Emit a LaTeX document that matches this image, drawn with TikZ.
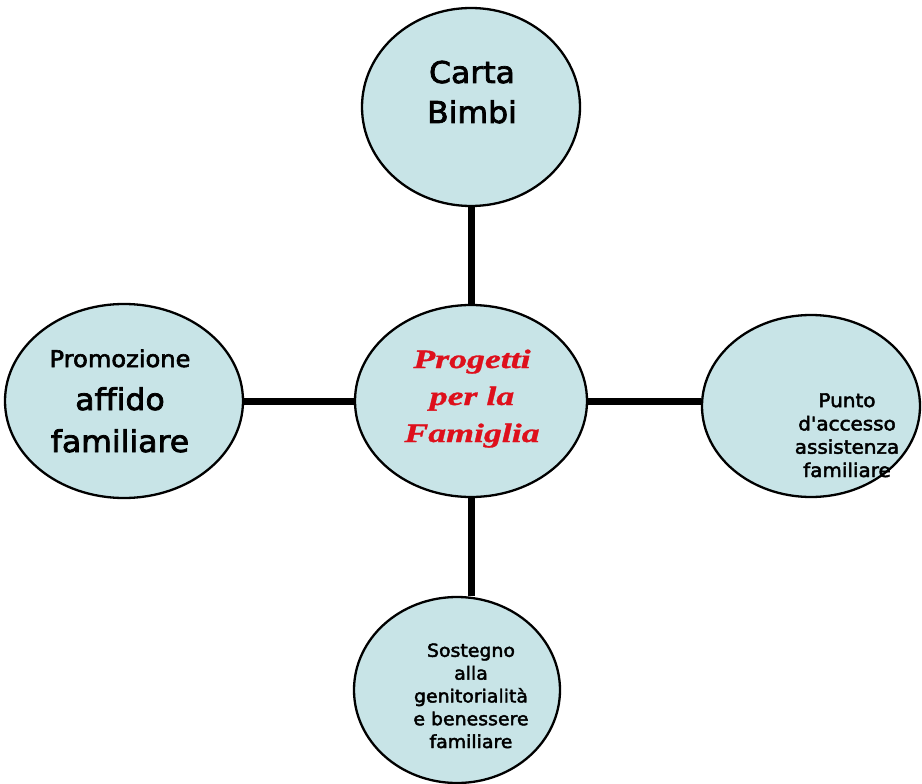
\documentclass[tikz,border=0pt]{standalone}
\usepackage{fontspec}
\setmainfont{Liberation Serif}
\newfontfamily\comicfont[FakeStretch=1.05,FakeBold=2.5,Ligatures=NoCommon]{DejaVu Sans}
\newfontfamily\titlefont[FakeStretch=1.35,FakeBold=1.2]{Liberation Serif}
\usetikzlibrary{shapes.geometric}
\definecolor{bubble}{RGB}{200,228,231}
\definecolor{titlered}{RGB}{222,16,28}
\tikzset{
  bubble/.style={ellipse, draw=black, line width=2.3pt, fill=bubble, inner sep=0pt},
  link/.style={line width=7pt, draw=black},
  txt/.style={anchor=base, align=center, inner sep=0pt, text=black},
}
\begin{document}
\begin{tikzpicture}[x=1pt,y=-1pt]
\useasboundingbox (0,0) rectangle (922,784);
% ellipses
\node[bubble, minimum width=218pt, minimum height=198pt] (top) at (471,107) {};
\node[bubble, minimum width=232pt, minimum height=192pt] (ctr) at (471,401) {};
\node[bubble, minimum width=238pt, minimum height=194pt] (lft) at (124,401) {};
\node[bubble, minimum width=218pt, minimum height=182pt] (rgt) at (811,406) {};
\node[bubble, minimum width=206pt, minimum height=186pt] (bot) at (457,690) {};
% connectors
\draw[link] (top.south) -- (ctr.north);
\draw[link] (lft.east) -- (ctr.west);
\draw[link] (ctr.east) -- (ctr.east -| rgt.west);
\draw[link] (ctr.south) -- (ctr.south |- bot.north);
% texts (anchor base = baseline of the last line)
\node[txt, font={\comicfont\fontsize{30}{40}\selectfont}] (ttop) at (472,123) {Carta\\Bimbi};
\node[txt, font={\comicfont\fontsize{23}{23}\selectfont}] (tlft1) at (120,367) {Promozione};
\node[txt, font={\comicfont\fontsize{30}{42}\selectfont}] (tlft2) at (120,452) {affido\\familiare};
\node[txt, font={\comicfont\fontsize{19}{23.3}\selectfont}] (trgt) at (847,477) {Punto\\d'accesso\\assistenza\\familiare};
\node[txt, font={\comicfont\fontsize{18}{22.8}\selectfont}] (tbot) at (471,748) {Sostegno\\alla\\genitorialità\\e benessere\\familiare};
\node[txt, text=titlered, font={\titlefont\bfseries\itshape\fontsize{26.5}{37}\selectfont}] (tctr) at (472,442) {Progetti\\per la\\Famiglia};
\end{tikzpicture}
\end{document}
